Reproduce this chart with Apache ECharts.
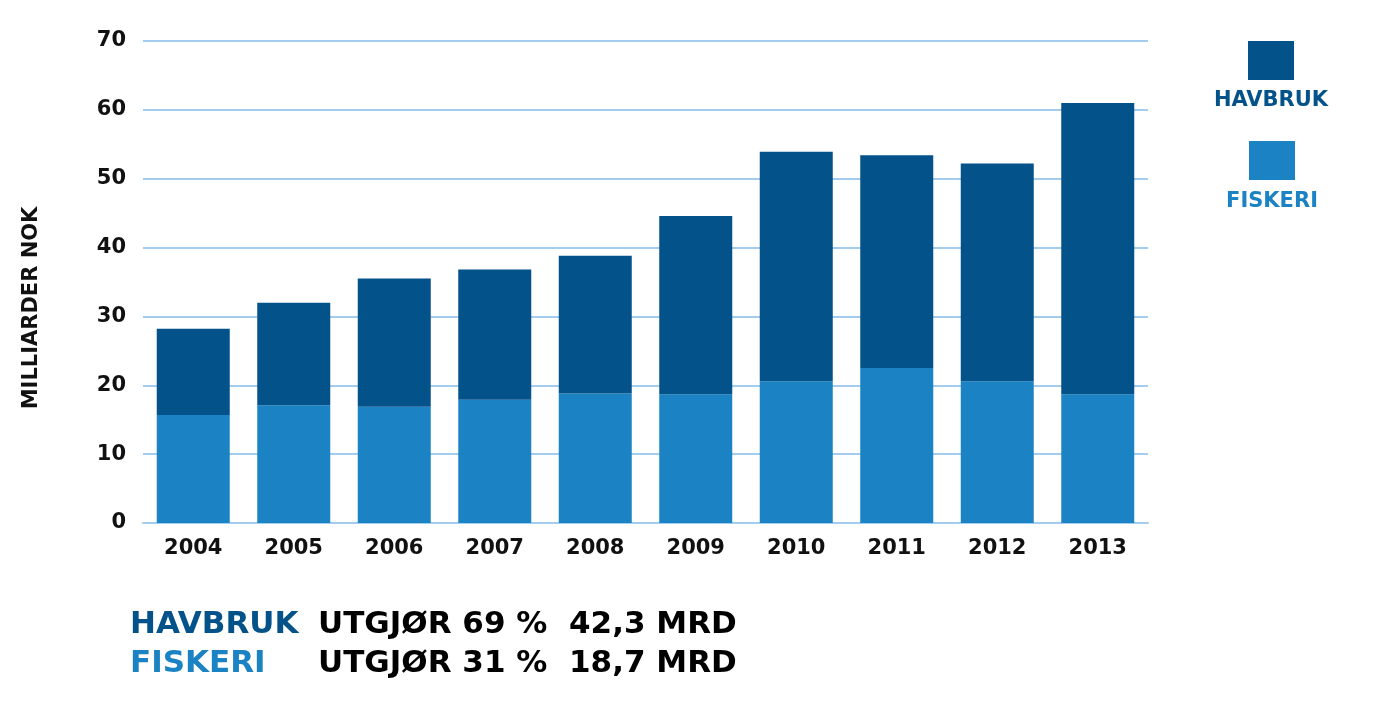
<!DOCTYPE html>
<html>
<head>
<meta charset="utf-8">
<script src="https://cdn.jsdelivr.net/npm/echarts@6/dist/echarts.min.js"></script>
<style>
html,body{margin:0;padding:0;background:#fff;}
#chart{width:1389px;height:718px;}
</style>
</head>
<body>
<div id="chart"></div>
<script>
const years = ['2004','2005','2006','2007','2008','2009','2010','2011','2012','2013'];
const fiskeri = [15.7, 17.1, 16.9, 17.9, 18.8, 18.7, 20.6, 22.5, 20.6, 18.7];
const totals  = [28.2, 32.0, 35.5, 36.8, 38.8, 44.6, 53.9, 53.4, 52.2, 61.0];
const havbruk = totals.map((t, i) => +(t - fiskeri[i]).toFixed(1));
const seriesNames = ['FISKERI', 'HAVBRUK'];
const summaryRows = [
  ['HAVBRUK', 'UTGJØR 69 %', '42,3 MRD'],
  ['FISKERI', 'UTGJØR 31 %', '18,7 MRD']
];
const yAxisName = 'MILLIARDER NOK';

const DARK = '#03528a';
const LIGHT = '#1b82c3';
const GRID = '#a3cdee';
const FONT = 'DejaVu Sans';

const chart = echarts.init(document.getElementById('chart'));
chart.setOption({
  animation: false,
  backgroundColor: '#fff',
  textStyle: { fontFamily: FONT },
  grid: { left: 143, right: 241, top: 41, bottom: 195 },
  xAxis: {
    type: 'category',
    data: years,
    axisLine: { show: true, lineStyle: { color: GRID, width: 2 } },
    axisTick: { show: false },
    axisLabel: { color: '#111', fontSize: 21, fontWeight: 'bold', fontFamily: FONT, margin: 15 }
  },
  yAxis: {
    type: 'value',
    min: 0, max: 70, interval: 10,
    axisLine: { show: false },
    axisTick: { show: false },
    axisLabel: { color: '#111', fontSize: 21, fontWeight: 'bold', fontFamily: FONT, margin: 17 },
    splitLine: { lineStyle: { color: GRID, width: 2 } }
  },
  series: [
    {
      name: seriesNames[0], type: 'bar', stack: 'total', data: fiskeri,
      barWidth: 73, itemStyle: { color: LIGHT }
    },
    {
      name: seriesNames[1], type: 'bar', stack: 'total', data: havbruk,
      barWidth: 73, itemStyle: { color: DARK }
    }
  ],
  graphic: [
    { type: 'text', x: 32, y: 308, rotation: Math.PI / 2, style: { text: yAxisName, fill: '#111', font: 'bold 21px "DejaVu Sans"', textAlign: 'center', textVerticalAlign: 'middle' } },

    { type: 'rect', shape: { x: 1248, y: 41, width: 46, height: 39 }, style: { fill: DARK } },
    { type: 'text', x: 1271, y: 101, style: { text: seriesNames[1], fill: DARK, font: 'bold 21px "DejaVu Sans"', textAlign: 'center', textVerticalAlign: 'middle' } },
    { type: 'rect', shape: { x: 1249, y: 141, width: 46, height: 39 }, style: { fill: LIGHT } },
    { type: 'text', x: 1272, y: 202, style: { text: seriesNames[0], fill: LIGHT, font: 'bold 21px "DejaVu Sans"', textAlign: 'center', textVerticalAlign: 'middle' } },

    { type: 'text', x: 130, y: 625, style: { text: summaryRows[0][0], fill: DARK, font: 'bold 31px "DejaVu Sans"', textVerticalAlign: 'middle' } },
    { type: 'text', x: 318, y: 625, style: { text: summaryRows[0][1], fill: '#000', font: 'bold 31px "DejaVu Sans"', textVerticalAlign: 'middle' } },
    { type: 'text', x: 569, y: 625, style: { text: summaryRows[0][2], fill: '#000', font: 'bold 31px "DejaVu Sans"', textVerticalAlign: 'middle' } },
    { type: 'text', x: 130, y: 664, style: { text: summaryRows[1][0], fill: LIGHT, font: 'bold 31px "DejaVu Sans"', textVerticalAlign: 'middle' } },
    { type: 'text', x: 318, y: 664, style: { text: summaryRows[1][1], fill: '#000', font: 'bold 31px "DejaVu Sans"', textVerticalAlign: 'middle' } },
    { type: 'text', x: 569, y: 664, style: { text: summaryRows[1][2], fill: '#000', font: 'bold 31px "DejaVu Sans"', textVerticalAlign: 'middle' } }
  ]
});
</script>
</body>
</html>
